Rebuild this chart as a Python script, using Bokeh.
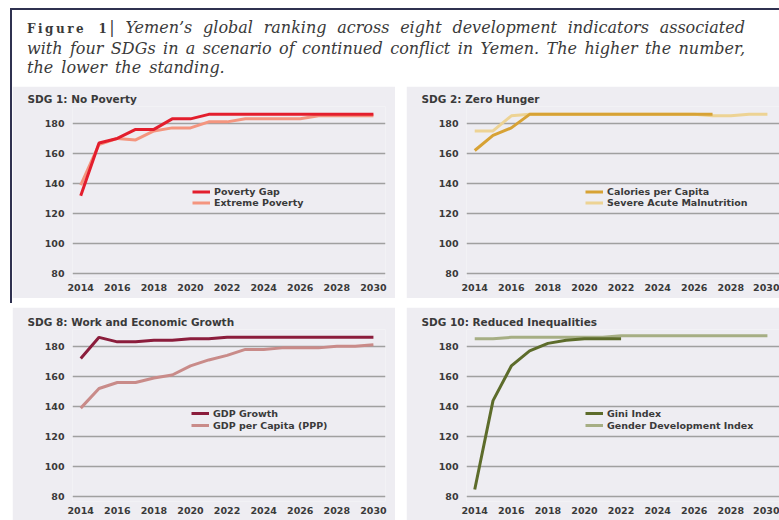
from bokeh.plotting import figure
from bokeh.models import Legend, LegendItem, FixedTicker, Div, Spacer, Title
from bokeh.layouts import row, column
from bokeh.embed import file_html
from bokeh.resources import INLINE

# ---------------- data ----------------
years = list(range(2014, 2031))
x_ticks = list(range(2014, 2031, 2))
y_ticks = [80, 100, 120, 140, 160, 180]

poverty_gap = [132, 167, 170, 176, 176, 183, 183, 186, 186, 186, 186, 186, 186, 186, 186, 186, 186]
extreme_poverty = [139, 166, 170, 169, 175, 177, 177, 181, 181, 183, 183, 183, 183, 185, 185, 185, 185]

calories_years = list(range(2014, 2028))
calories_per_capita = [162, 172, 177, 186, 186, 186, 186, 186, 186, 186, 186, 186, 186, 186]
severe_malnutrition = [175, 175, 185, 186, 186, 186, 186, 186, 186, 186, 186, 186, 186, 185, 185, 186, 186]

gdp_growth = [172, 186, 183, 183, 184, 184, 185, 185, 186, 186, 186, 186, 186, 186, 186, 186, 186]
gdp_per_capita = [139, 152, 156, 156, 159, 161, 167, 171, 174, 178, 178, 179, 179, 179, 180, 180, 181]

gini_years = list(range(2014, 2023))
gini_index = [85, 144, 167, 177, 182, 184, 185, 185, 185]
gender_dev_index = [185, 185, 186, 186, 186, 186, 186, 186, 187, 187, 187, 187, 187, 187, 187, 187, 187]

panel_titles = ["SDG 1: No Poverty", "SDG 2: Zero Hunger",
                "SDG 8: Work and Economic Growth", "SDG 10: Reduced Inequalities"]

# ---------------- style ----------------
BG = "#eeedf2"
GRID = "#a0a0a0"
TXT = "#3a3a3a"
DARK = "#2f3150"
FONT = "DejaVu Sans"


def make_panel(title, series, width, height, top, bottom, right, leg_loc, leg_lh):
    p = figure(width=width, height=height, x_range=(2013.55, 2030.66), y_range=(77, 191.2),
               output_backend="svg", toolbar_location=None,
               min_border_left=60, min_border_right=right,
               min_border_top=top, min_border_bottom=bottom,
               background_fill_color=BG, border_fill_color=BG, outline_line_color=None)
    p.title = Title(text=title, align="left", offset=-45, standoff=3,
                    text_font=FONT, text_font_size="10.5px", text_font_style="bold",
                    text_color=TXT)
    p.xaxis.ticker = FixedTicker(ticks=x_ticks)
    p.yaxis.ticker = FixedTicker(ticks=y_ticks)
    for ax in (p.xaxis, p.yaxis):
        ax.axis_line_color = None
        ax.major_tick_line_color = None
        ax.minor_tick_line_color = None
        ax.major_tick_out = 0
        ax.major_tick_in = 0
        ax.major_label_text_font = FONT
        ax.major_label_text_font_size = "9.5px"
        ax.major_label_text_font_style = "bold"
        ax.major_label_text_color = TXT
    p.xaxis.major_label_standoff = 5
    p.yaxis.major_label_standoff = 8
    p.xgrid.grid_line_color = None
    p.ygrid.grid_line_color = GRID
    p.ygrid.grid_line_width = 1.7

    rends = {}
    # draw the second series first so the first one sits on top
    for name, xs, ys, color in reversed(series):
        rends[name] = p.line(xs, ys, line_color=color, line_width=3)
    items = [LegendItem(label=name, renderers=[rends[name]]) for name, _, _, _ in series]
    leg = Legend(items=items, location=leg_loc, orientation="vertical",
                 background_fill_alpha=0, border_line_color=None,
                 padding=0, margin=0, spacing=0,
                 glyph_width=18, glyph_height=leg_lh, label_height=leg_lh,
                 label_standoff=4, label_text_font=FONT, label_text_font_size="9.5px",
                 label_text_font_style="bold", label_text_color=TXT)
    p.add_layout(leg)
    return p


p1 = make_panel(panel_titles[0],
                [("Poverty Gap", years, poverty_gap, "#e31e2d"),
                 ("Extreme Poverty", years, extreme_poverty, "#f4957f")],
                383, 212, 20, 20, 10, (120, 70), 11)
p2 = make_panel(panel_titles[1],
                [("Calories per Capita", calories_years, calories_per_capita, "#d7a235"),
                 ("Severe Acute Malnutrition", years, severe_malnutrition, "#edd394")],
                373, 212, 20, 20, 0, (119, 70), 11)
p3 = make_panel(panel_titles[2],
                [("GDP Growth", years, gdp_growth, "#8b1d3c"),
                 ("GDP per Capita (PPP)", years, gdp_per_capita, "#c98b89")],
                383, 213, 22, 19, 10, (119, 70), 12)
p4 = make_panel(panel_titles[3],
                [("Gini Index", gini_years, gini_index, "#5d6c2b"),
                 ("Gender Development Index", years, gender_dev_index, "#a6ae84")],
                373, 213, 22, 19, 0, (119, 70), 12)

line_style = ("width:718px; text-align:justify; text-align-last:justify; "
              "font-size:16px; line-height:19px; font-style:italic;")
header_html = (
    "<div style=\"width:767px; box-sizing:border-box; padding:8px 34px 0 15px; "
    "font-family:'DejaVu Serif'; color:#3a3a3a;\">"
    f"<div style=\"{line_style}\">"
    "<span style=\"font-style:normal; font-weight:bold; font-size:12px; letter-spacing:2.5px;\">Figure 1</span>"
    "| Yemen’s global ranking across eight development indicators associated</div>"
    f"<div style=\"{line_style}\">with four SDGs in a scenario of continued conflict in Yemen. The higher the number,</div>"
    "<div style=\"font-size:16px; line-height:19px; font-style:italic; word-spacing:3px;\">the lower the standing.</div>"
    "</div>"
)
header = Div(text=header_html, width=767, height=76, margin=(0, 0, 0, 0))
top_line = Div(text="", width=769, height=2, margin=(0, 0, 0, 0),
               styles={"background-color": DARK})
left_bar = Div(text="", width=2, height=293, margin=(0, 0, 0, 0),
               styles={"background-color": DARK})

# the page itself has no margin, so an 8px offset is added here
row1 = row(p1, Spacer(width=11, height=212), p2)
top_block = row(Spacer(width=10, height=290),
                column(top_line, row(left_bar, column(header, row1))))
row2 = row(Spacer(width=12, height=213), p3, Spacer(width=11, height=213), p4)
layout = column(Spacer(width=779, height=8), top_block, Spacer(width=779, height=4), row2)

open("out.html", "w").write(file_html(layout, INLINE))
